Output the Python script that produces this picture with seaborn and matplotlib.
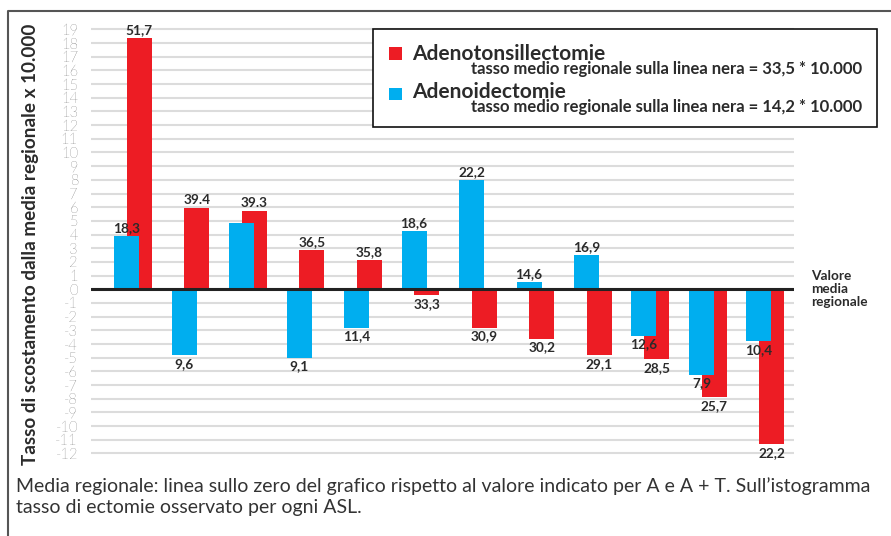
import matplotlib
matplotlib.use("Agg")
import matplotlib.pyplot as plt
import seaborn as sns
import numpy as np
from matplotlib.patches import Rectangle
from matplotlib.lines import Line2D

sns.set_theme(style="white")
plt.rcParams["font.family"] = ["Lato", "DejaVu Sans"]

# data: deviation from regional mean (x 10.000) and labelled rates
groups = list(range(12))
adenoid_dev = [3.9, -4.8, 4.85, -5.0, -2.8, 4.25, 8.0, 0.5, 2.5, -3.4, -6.25, -3.8]
adenoid_lbl = ["18,3", "9,6", "", "9,1", "11,4", "18,6", "22,2", "14,6", "16,9", "12,6", "7,9", "10,4"]
tonsil_dev = [18.35, 5.95, 5.7, 2.85, 2.15, -0.45, -2.8, -3.6, -4.8, -5.1, -7.9, -11.3]
tonsil_lbl = ["51,7", "39.4", "39.3", "36,5", "35,8", "33,3", "30,9", "30,2", "29,1", "28,5", "25,7", "22,2"]
yticks = list(range(-12, 20))

RED = "#ED1C24"
BLUE = "#00AEEF"
TXT = "#2b2b2b"

W, H = 891, 536
fig = plt.figure(figsize=(W / 100, H / 100), dpi=100)
ax = fig.add_axes([91 / W, 0.1489, 703 / W, 0.8015])

off = 0.11
blue_x = [g - off for g in groups]
red_x = [g + off for g in groups]

sns.barplot(x=red_x, y=tonsil_dev, native_scale=True, width=0.435, color=RED,
            saturation=1, ax=ax, zorder=2, linewidth=0)
sns.barplot(x=blue_x, y=adenoid_dev, native_scale=True, width=0.435, color=BLUE,
            saturation=1, ax=ax, zorder=3, linewidth=0)

ax.set_xlim(-0.73, 11.5)
ax.set_ylim(-12.2, 19.2)
ax.set_yticks(yticks)
ax.set_yticklabels([str(t) for t in yticks])
ax.set_xticks([])
ax.set_xlabel("")
ax.set_ylabel("")
for s in ax.spines.values():
    s.set_visible(False)
ax.tick_params(axis="y", length=0, pad=9.4, labelsize=10.5, labelcolor="#222222")
for lab in ax.get_yticklabels():
    lab.set_fontweight("light")
for t in yticks:
    ax.axhline(t, color="#dcdcdc", lw=1.5, zorder=1)
ax.axhline(0, color="#222222", lw=2.2, zorder=4)

def put_labels(xs, vals, labels):
    for x, v, s in zip(xs, vals, labels):
        if not s:
            continue
        if v >= 0:
            ax.annotate(s, (x, v), xytext=(0, 1.5), textcoords="offset points",
                        ha="center", va="bottom", fontsize=9.8, fontweight="bold",
                        color=TXT, zorder=5)
        else:
            ax.annotate(s, (x, v), xytext=(0, -2), textcoords="offset points",
                        ha="center", va="top", fontsize=9.8, fontweight="bold",
                        color=TXT, zorder=5)

put_labels(red_x, tonsil_dev, tonsil_lbl)
put_labels(blue_x, adenoid_dev, adenoid_lbl)

def fx(px):
    return px / W

def fy(py):
    return 1 - py / H

# outer frame (top and left only)
fig.add_artist(Line2D([fx(8), fx(8), fx(891)], [fy(536), fy(11), fy(11)],
                      color="#555555", lw=1.5, transform=fig.transFigure))

# legend box
fig.add_artist(Rectangle((fx(373), fy(127)), fx(877) - fx(373), fy(29) - fy(127),
                         transform=fig.transFigure, facecolor="white",
                         edgecolor="#111111", lw=1.2, zorder=5))
fig.add_artist(Rectangle((fx(389), fy(60)), fx(402) - fx(389), fy(47) - fy(60),
                         transform=fig.transFigure, facecolor=RED, lw=0, zorder=6))
fig.add_artist(Rectangle((fx(389), fy(100)), fx(402) - fx(389), fy(88) - fy(100),
                         transform=fig.transFigure, facecolor=BLUE, lw=0, zorder=6))
fig.text(fx(412), fy(59.5), "Adenotonsillectomie", fontsize=15, fontweight="bold",
         color=TXT, va="baseline", ha="left", zorder=7)
fig.text(fx(862), fy(74), "tasso medio regionale sulla linea nera = 33,5 * 10.000",
         fontsize=12, fontweight="bold", color=TXT, va="baseline", ha="right", zorder=7)
fig.text(fx(412), fy(97.5), "Adenoidectomie", fontsize=15, fontweight="bold",
         color=TXT, va="baseline", ha="left", zorder=7)
fig.text(fx(862), fy(112), "tasso medio regionale sulla linea nera = 14,2 * 10.000",
         fontsize=12, fontweight="bold", color=TXT, va="baseline", ha="right", zorder=7)

# side note at the zero line
fig.text(fx(811), fy(289), "Valore\nmedia\nregionale", fontsize=9.8, fontweight="bold",
         color=TXT, va="center", ha="left", linespacing=1.1)

# y axis title
fig.text(fx(31), fy(244), "Tasso di scostamento dalla media regionale x 10.000",
         rotation=90, fontsize=13.6, fontweight="bold", color=TXT, va="center", ha="center")

# caption
fig.text(fx(16), fy(492), "Media regionale: linea sullo zero del grafico rispetto al valore indicato per A e A + T. Sull\u2019istogramma",
         fontsize=14, color="#333333", va="baseline", ha="left")
fig.text(fx(16), fy(513), "tasso di ectomie osservato per ogni ASL.",
         fontsize=14, color="#333333", va="baseline", ha="left")

fig.savefig("out.png", dpi=100)
